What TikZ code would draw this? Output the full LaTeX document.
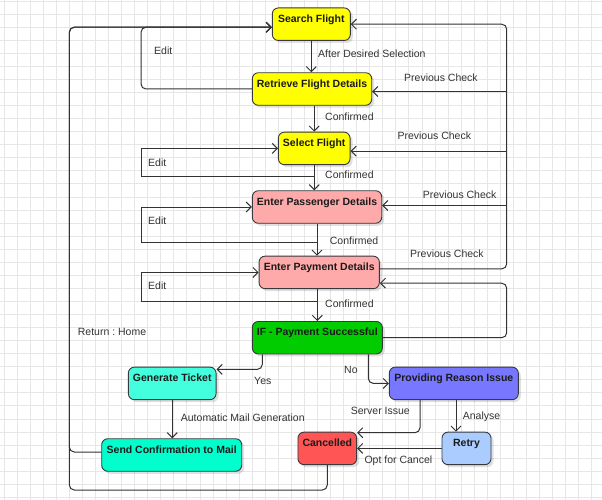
\documentclass[tikz,border=0pt]{standalone}
\usepackage{fontspec}
\setmainfont{Liberation Sans}
\usetikzlibrary{arrows.meta,shadows}
\definecolor{gridc}{HTML}{E6E6E6}
\definecolor{lin}{HTML}{333333}
\definecolor{bline}{HTML}{36393D}
\definecolor{ntxt}{HTML}{1A1A1A}
\definecolor{ltxt}{HTML}{333333}
\definecolor{cyel}{HTML}{FFFF00}
\definecolor{cpink}{HTML}{FFAAAA}
\definecolor{cgreen}{HTML}{00CC00}
\definecolor{cgen}{HTML}{44FFDD}
\definecolor{csend}{HTML}{00FFCC}
\definecolor{creason}{HTML}{7777FF}
\definecolor{ccancel}{HTML}{FF5555}
\definecolor{cretry}{HTML}{AACCFF}
\frenchspacing
\begin{document}
\begin{tikzpicture}[x=1pt,y=-1pt,
  box/.style={draw=bline, line width=0.9pt, rounded corners=6pt, anchor=north,
    font=\bfseries\fontsize{10.5}{12}\selectfont, text=ntxt,
    inner xsep=0pt, inner ysep=0pt, text height=14.5pt, text depth=18pt,
    drop shadow={shadow xshift=2.5pt, shadow yshift=-2.5pt, opacity=0.12, fill=black}},
  edge/.style={draw=lin, line width=1pt, -{Straight Barb[length=5pt,width=10pt,line width=1pt]}},
  rnd/.style={rounded corners=5pt},
  lbl/.style={font=\fontsize{10.5}{12}\selectfont, text=ltxt, inner sep=0pt, anchor=west}]
\useasboundingbox (0,0) rectangle (602,500);
\fill[white] (0,0) rectangle (602,500);
\foreach \i in {0,...,45} \draw[gridc, line width=0.8pt] ({4+13.06*\i},0) -- ({4+13.06*\i},500);
\foreach \i in {0,...,38} \draw[gridc, line width=0.8pt] (0,{1+13.06*\i}) -- (602,{1+13.06*\i});

% nodes
\node[box, fill=cyel, minimum width=78pt] (search) at (311.3,7.5) {Search Flight};
\node[box, fill=cyel, minimum width=119.4pt] (retrieve) at (312,72.3) {Retrieve Flight Details};
\node[box, fill=cyel, minimum width=71.7pt] (select) at (314.2,131.7) {Select Flight};
\node[box, fill=cpink, minimum width=129.4pt] (passenger) at (317,190.3) {Enter Passenger Details};
\node[box, fill=cpink, minimum width=120.3pt] (payment) at (319.2,255.7) {Enter Payment Details};
\node[box, fill=cgreen, minimum width=130pt] (ifpay) at (317.3,321) {IF - Payment Successful};
\node[box, fill=cgen, minimum width=87.7pt] (gen) at (172.2,366.7) {Generate Ticket};
\node[box, fill=csend, minimum width=140pt] (send) at (171.7,438.3) {Send Confirmation to Mail};
\node[box, fill=creason, minimum width=129pt] (reason) at (453.8,366.7) {Providing Reason Issue};
\node[box, fill=ccancel, minimum width=58.7pt] (cancel) at (327.3,431.7) {Cancelled};
\node[box, fill=cretry, minimum width=49pt] (retry) at (466.5,431.7) {Retry};

% helper coordinates
\coordinate (searchIn) at ([yshift=-3pt]search.west);
\coordinate (xEdit) at (141,0);
\coordinate (xRet) at (69.3,0);
\coordinate (xPC) at (506.7,0);
\coordinate (yBot) at (0,490);
\coordinate (e2) at (141,176.7);
\coordinate (e3) at (141,242.3);
\coordinate (e4) at (141,301);
\coordinate (r1) at ([yshift=-2.5pt]retrieve.east);
\coordinate (r2) at ([yshift=-2.7pt]select.east);
\coordinate (r3) at ([yshift=1.5pt]passenger.east);
\coordinate (p1) at ([yshift=3.5pt]payment.east);
\coordinate (p2) at ([yshift=-10.8pt]payment.east);

% main flow
\draw[edge] (search.south) -- (retrieve.north -| search.south);
\draw[edge] (retrieve.south -| select.north) -- (select.north);
\draw[edge] (select.south) -- (select.south |- passenger.north);
\draw[edge] (passenger.south) -- (passenger.south |- payment.north);
\draw[edge] (payment.south -| ifpay.north) -- (ifpay.north);

% edit loops
\draw[edge, rnd] (retrieve.west) -| (xEdit |- searchIn) -- (searchIn);
\draw[edge] (select.south) |- (e2) |- (select.west);
\draw[edge] (passenger.south) |- (e3) |- (passenger.west);
\draw[edge] (payment.south -| ifpay.north) |- (e4) |- (payment.west);

% return home
\draw[edge, rnd] ([yshift=3pt]send.west) -| (xRet |- searchIn) -- (searchIn);
\draw[edge, rnd] (cancel.south) |- (xRet |- yBot) |- (searchIn);

% previous check
\draw[edge, rnd] (p1) -| (xPC |- search.east) -- (search.east);
\draw[edge] (xPC |- r1) -- (r1);
\draw[edge] (xPC |- r2) -- (r2);
\draw[edge] (xPC |- r3) -- (r3);
\draw[edge, rnd] (ifpay.east) -| (xPC |- p2) -- (p2);

% branches
\draw[edge, rnd] ([xshift=-55pt]ifpay.south) |- ([yshift=14pt]gen.east);
\draw[edge, rnd] ([xshift=51pt]ifpay.south) |- (reason.west);
\draw[edge] (gen.south) -- (gen.south |- send.north);
\draw[edge, rnd] ([xshift=-33.8pt]reason.south) |- ([yshift=15.7pt]cancel.east);
\draw[edge] ([xshift=2.2pt]reason.south) -- ([xshift=2.2pt]reason.south |- retry.north);
\draw[edge] (retry.west) -- (cancel.east);

% labels
\node[lbl] (l1) at (318,54) {After Desired Selection};
\node[lbl] (l2) at (404,77.7) {Previous Check};
\node[lbl] (l3) at (325,116.7) {Confirmed};
\node[lbl] (l4) at (397.3,136) {Previous Check};
\node[lbl] (l5) at (325,175) {Confirmed};
\node[lbl] (l6) at (422.7,195) {Previous Check};
\node[lbl] (l7) at (329.7,240.7) {Confirmed};
\node[lbl] (l8) at (410,253.3) {Previous Check};
\node[lbl] (l9) at (325,303.3) {Confirmed};
\node[lbl] (l10) at (154,50.7) {Edit};
\node[lbl] (l11) at (148,162.7) {Edit};
\node[lbl] (l12) at (148,221) {Edit};
\node[lbl] (l13) at (148,286) {Edit};
\node[lbl] (l14) at (77.7,331.7) {Return : Home};
\node[lbl] (l15) at (254,381) {Yes};
\node[lbl] (l16) at (180.7,417.7) {Automatic Mail Generation};
\node[lbl] (l17) at (344,370.3) {No};
\node[lbl] (l18) at (350.7,411) {Server Issue};
\node[lbl] (l19) at (462.7,417) {Analyse};
\node[lbl] (l20) at (364.3,460.3) {Opt for Cancel};
\end{tikzpicture}
\end{document}
